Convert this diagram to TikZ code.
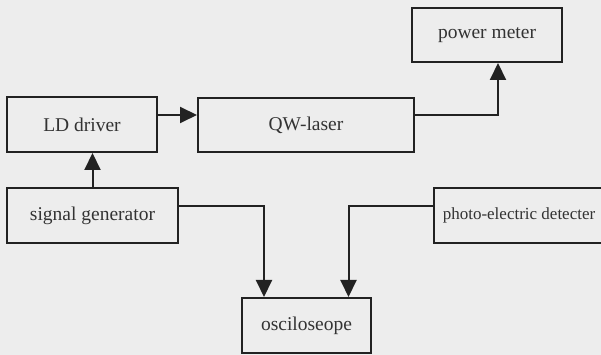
\documentclass[tikz,border=0pt]{standalone}
\usepackage{fontspec}
\setmainfont{Liberation Serif}
\usetikzlibrary{arrows.meta, positioning, calc}
\definecolor{scanBg}{HTML}{EDEDED}
\definecolor{inkLine}{HTML}{222222}
\definecolor{inkText}{HTML}{333333}
\tikzset{
  % scan-like ink: dark grey lines, solid triangle heads
  every picture/.append style = {line width=2pt, inkLine},
  flow/.style = {-{Triangle[length=17pt, width=16pt]}, line width=2pt, inkLine},
}

\begin{document}
\begin{tikzpicture}[
  x=1pt, y=1pt,
  blk/.style = {draw, line width=2pt, minimum height=55pt, inner sep=0pt,
                text=inkText, font=\fontsize{19.5}{21}\selectfont, align=center},
]
% ---- page -----------------------------------------------------------------
\fill[scanBg] (0,0) rectangle (601,355);
\useasboundingbox (0,0) rectangle (601,355);

% ---- upper row: driver, laser, meter ----------------------------------------
\node[blk, minimum width=150pt] (ld) at (82,230.5) {LD driver};
\node[blk, minimum width=216pt, minimum height=54pt] (qw) at (306,230) {QW-laser};
\node[blk, minimum width=150pt, minimum height=54pt] (pm) at (487,320) {power meter};

% ---- lower row: generator, detector, scope ----------------------------------
\node[blk, minimum width=171pt] (sg) at (92.5,139.5) {signal generator};
\node[blk, minimum width=170pt, font=\fontsize{17}{19}\selectfont] (pd) at (519,139.5)
  {photo-electric detecter};
\node[blk, minimum width=129pt] (os) at (306.5,29.5) {osciloseope};

% ---- connections ------------------------------------------------------------
\draw[flow] ([yshift=9.5pt]ld.east) -- ([yshift=9.5pt]ld.east -| qw.west);
\draw[flow] ([yshift=10pt]qw.east) -| ([xshift=11pt]pm.south);
\draw[flow] (sg.north) -- (sg.north |- ld.south);
\draw[flow] ([yshift=9.5pt]sg.east) -| ([xshift=-42.5pt]os.north);
\draw[flow] ([yshift=9.5pt]pd.west) -| ([xshift=42pt]os.north);
\end{tikzpicture}
\end{document}
